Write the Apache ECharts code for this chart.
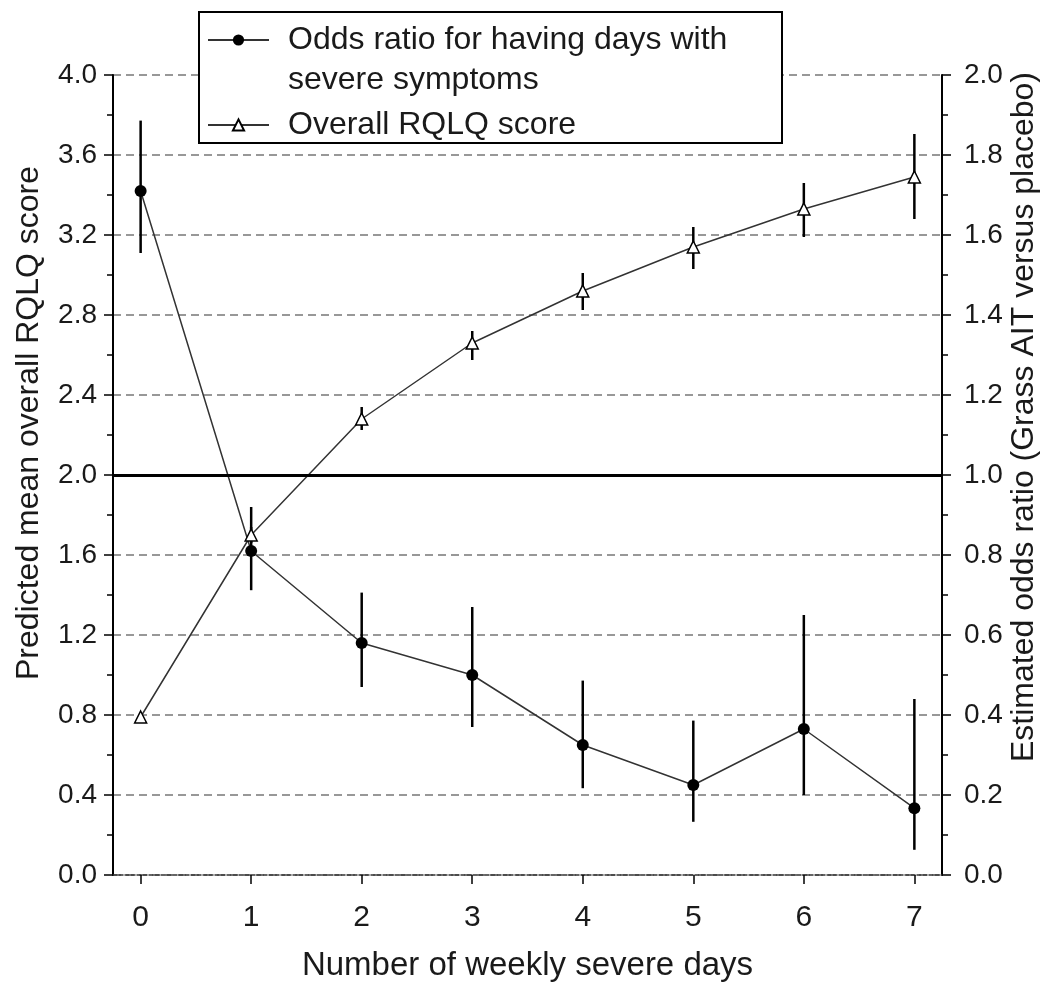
<!DOCTYPE html>
<html>
<head>
<meta charset="utf-8">
<script src="https://cdn.jsdelivr.net/npm/echarts@6/dist/echarts.min.js"></script>
<style>
  html, body { margin: 0; padding: 0; background: #fff; }
  #chart { width: 1045px; height: 985px; }
</style>
</head>
<body>
<div id="chart"></div>
<script>
// data
const days = [0, 1, 2, 3, 4, 5, 6, 7];
const oddsRatio = [1.71, 0.81, 0.58, 0.50, 0.325, 0.225, 0.365, 0.167];
const oddsLow = [1.555, 0.712, 0.47, 0.37, 0.217, 0.133, 0.20, 0.063];
const oddsHigh = [1.886, 0.92, 0.706, 0.67, 0.486, 0.386, 0.65, 0.44];
const rqlq = [0.79, 1.70, 2.28, 2.66, 2.92, 3.14, 3.33, 3.49];
const rqlqLow = [0.79, 1.66, 2.225, 2.575, 2.825, 3.03, 3.19, 3.28];
const rqlqHigh = [0.79, 1.74, 2.34, 2.72, 3.01, 3.24, 3.46, 3.705];
const refLine = 2.0; // odds ratio = 1.0 on the right axis

const ODDS_NAME = 'Odds ratio for having days with\nsevere symptoms';
const RQLQ_NAME = 'Overall RQLQ score';
const FONT = '"Liberation Sans", Arial, sans-serif';

const chart = echarts.init(document.getElementById('chart'));

// vertical error bar drawn with the series' own axes
function errorBars(low, high, yAxisIndex) {
  return {
    type: 'custom',
    yAxisIndex: yAxisIndex,
    silent: true,
    z: 1,
    renderItem: (params, api) => {
      const a = api.coord([api.value(0), api.value(1)]);
      const b = api.coord([api.value(0), api.value(2)]);
      return {
        type: 'line',
        shape: { x1: a[0], y1: a[1], x2: b[0], y2: b[1] },
        style: { stroke: '#000', lineWidth: 2.5 }
      };
    },
    encode: { x: 0, y: [1, 2] },
    data: days.map((d, i) => [d, low[i], high[i]])
  };
}

const tickLabel = v => v.toFixed(1);

const option = {
  animation: false,
  backgroundColor: '#fff',
  textStyle: { fontFamily: FONT },
  grid: { left: 113, right: 103, top: 75, bottom: 110, outerBoundsMode: 'none' },
  graphic: [
    {
      type: 'rect',
      z: 3,
      shape: { x: 199, y: 12, width: 583, height: 131 },
      style: { fill: '#fff', stroke: '#000', lineWidth: 2 }
    }
  ],
  legend: {
    z: 4,
    orient: 'vertical',
    left: 207,
    top: -20,
    padding: 0,
    itemWidth: 61,
    itemHeight: 14,
    itemGap: 5,
    textStyle: { fontFamily: FONT, fontSize: 32, lineHeight: 40, color: '#1a1a1a', padding: [0, 0, 0, 14] },
    // a blank first line keeps the first text line level with the symbol
    formatter: name => (name === ODDS_NAME ? ' \n' + name : name),
    data: [ODDS_NAME, RQLQ_NAME]
  },
  xAxis: {
    type: 'value',
    min: -0.25,
    max: 7.25,
    name: 'Number of weekly severe days',
    nameLocation: 'middle',
    nameGap: 74,
    nameTextStyle: { fontFamily: FONT, fontSize: 33, color: '#1a1a1a' },
    axisLine: { show: true, onZero: false, lineStyle: { color: '#333', width: 1.5, type: [4, 2] } },
    axisTick: { show: true, length: 9, customValues: days, lineStyle: { color: '#000', width: 1.5 } },
    axisLabel: { customValues: days, fontSize: 30, color: '#1a1a1a', margin: 28 },
    splitLine: { show: false }
  },
  yAxis: [
    {
      type: 'value',
      position: 'left',
      min: 0,
      max: 4,
      interval: 0.4,
      name: 'Predicted mean overall RQLQ score',
      nameLocation: 'middle',
      nameRotate: 90,
      nameGap: 68,
      nameTextStyle: { fontFamily: FONT, fontSize: 32, color: '#1a1a1a', padding: [0, 0, 0, 104] },
      axisLine: { show: true, onZero: false, lineStyle: { color: '#000', width: 2 } },
      axisTick: { show: true, length: 9, lineStyle: { color: '#000', width: 1.5 } },
      minorTick: { show: true, splitNumber: 2, length: 6, lineStyle: { color: '#000', width: 1.5 } },
      axisLabel: { fontSize: 28, color: '#1a1a1a', margin: 16, formatter: tickLabel },
      splitLine: { show: true, lineStyle: { color: '#777', width: 1.5, type: [8, 5] } }
    },
    {
      type: 'value',
      position: 'right',
      min: 0,
      max: 2,
      interval: 0.2,
      name: 'Estimated odds ratio (Grass AIT versus placebo)',
      nameLocation: 'middle',
      nameRotate: 90,
      nameGap: 66,
      nameMoveOverlap: false,
      nameTextStyle: { fontFamily: FONT, fontSize: 32, color: '#1a1a1a', padding: [0, 0, 0, 116] },
      axisLine: { show: true, onZero: false, lineStyle: { color: '#000', width: 2 } },
      axisTick: { show: true, length: 9, lineStyle: { color: '#000', width: 1.5 } },
      minorTick: { show: true, splitNumber: 2, length: 6, lineStyle: { color: '#000', width: 1.5 } },
      axisLabel: { fontSize: 28, color: '#1a1a1a', margin: 22, formatter: tickLabel },
      splitLine: { show: false }
    }
  ],
  series: [
    errorBars(oddsLow, oddsHigh, 1),
    errorBars(rqlqLow, rqlqHigh, 0),
    {
      name: ODDS_NAME,
      type: 'line',
      yAxisIndex: 1,
      z: 2,
      symbol: 'circle',
      symbolSize: 12,
      itemStyle: { color: '#000' },
      lineStyle: { color: '#333', width: 1.5 },
      data: days.map((d, i) => [d, oddsRatio[i]])
    },
    {
      name: RQLQ_NAME,
      type: 'line',
      yAxisIndex: 0,
      z: 2,
      symbol: 'triangle',
      symbolSize: 12,
      itemStyle: { color: '#fff', borderColor: '#000', borderWidth: 1.5 },
      lineStyle: { color: '#333', width: 1.5 },
      data: days.map((d, i) => [d, rqlq[i]]),
      markLine: {
        silent: true,
        symbol: 'none',
        label: { show: false },
        lineStyle: { color: '#000', width: 3, type: 'solid' },
        data: [{ yAxis: refLine }]
      }
    }
  ]
};

chart.setOption(option);
</script>
</body>
</html>
